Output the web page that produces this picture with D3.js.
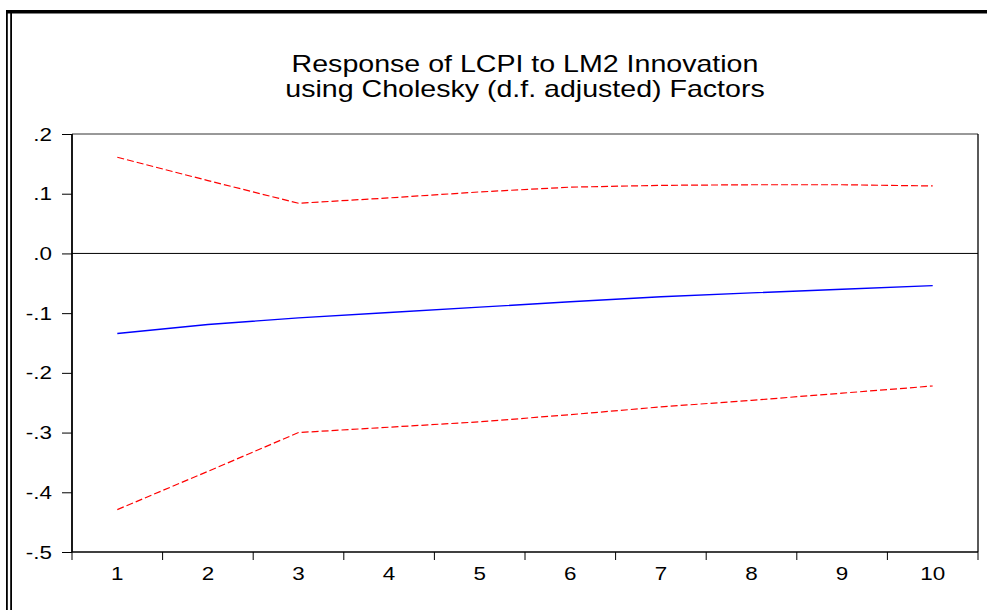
<!DOCTYPE html>
<html>
<head>
<meta charset="utf-8">
<script src="https://cdn.jsdelivr.net/npm/d3@7"></script>
<style>
  body { margin: 0; background: #fff; }
  text { font-family: "Liberation Sans", Arial, sans-serif; fill: #000; }
  .axis path { display: none; }
  .axis line { stroke: #000; }
</style>
</head>
<body>
<div id="chart"></div>
<script>
// periods after the shock
var periods = [1, 2, 3, 4, 5, 6, 7, 8, 9, 10];
// impulse response of LCPI to LM2
var response = [-0.134, -0.119, -0.108, -0.099, -0.090, -0.081, -0.0725, -0.066, -0.060, -0.054];
// +/- 2 S.E. bands
var upperBand = [0.161, 0.122, 0.084, 0.093, 0.103, 0.111, 0.114, 0.115, 0.115, 0.113];
var lowerBand = [-0.429, -0.365, -0.300, -0.291, -0.282, -0.270, -0.257, -0.246, -0.234, -0.222];
var yTicks = [0.2, 0.1, 0.0, -0.1, -0.2, -0.3, -0.4, -0.5];
var titleLines = ["Response of LCPI to LM2 Innovation", "using Cholesky (d.f. adjusted) Factors"];

var width = 987, height = 610;
var plot = { left: 72, right: 978, top: 134, bottom: 552 };
var stretch = 1.18; // eviews fonts are drawn wide

var svg = d3.select("#chart")
  .append("svg")
  .attr("width", width)
  .attr("height", height);

// outer frame (top bar + double line on the left)
svg.append("rect").attr("x", 6).attr("y", 10).attr("width", width - 6).attr("height", 3.5).attr("fill", "#000");
svg.append("rect").attr("x", 6).attr("y", 10).attr("width", 1.8).attr("height", height - 10).attr("fill", "#000");
svg.append("rect").attr("x", 10.2).attr("y", 10).attr("width", 1.8).attr("height", height - 10).attr("fill", "#000");

var x = d3.scaleBand().domain(periods).range([plot.left, plot.right]).padding(0);
var y = d3.scaleLinear().domain([-0.5, 0.2]).range([plot.bottom, plot.top]);

function widen(sel, k) {
  sel.each(function() {
    var w = this.getComputedTextLength();
    d3.select(this).attr("textLength", w * k).attr("lengthAdjust", "spacingAndGlyphs");
  });
}

// title
svg.append("g")
  .selectAll("text")
  .data(titleLines)
  .enter().append("text")
  .attr("x", (plot.left + plot.right) / 2)
  .attr("y", function(d, i) { return 72 + i * 25; })
  .attr("text-anchor", "middle")
  .style("font-size", "24px")
  .text(function(d) { return d; })
  .call(widen, 1.19);

// y axis
var fmt = function(d) {
  return d3.format(".1f")(Math.abs(d)).replace("0.", d < 0 ? "-." : ".");
};
svg.append("g")
  .attr("class", "axis y-axis")
  .attr("transform", "translate(" + plot.left + ",0)")
  .call(d3.axisLeft(y).tickValues(yTicks).tickFormat(fmt).tickSize(10).tickPadding(10))
  .selectAll("text")
  .style("font-size", "19px")
  .style("font-family", "Liberation Sans, Arial, sans-serif")
  .call(widen, stretch);

// x axis labels (centered in each period)
svg.append("g")
  .attr("class", "axis x-axis")
  .attr("transform", "translate(0," + plot.bottom + ")")
  .call(d3.axisBottom(x).tickSize(0).tickPadding(15))
  .selectAll("text")
  .style("font-size", "19px")
  .style("font-family", "Liberation Sans, Arial, sans-serif")
  .call(widen, stretch);

// x ticks at period boundaries
var bounds = periods.map(function(d) { return x(d); }).concat([x(periods[periods.length - 1]) + x.bandwidth()]);
svg.append("g")
  .selectAll("line")
  .data(bounds)
  .enter().append("line")
  .attr("x1", function(d) { return d; })
  .attr("x2", function(d) { return d; })
  .attr("y1", plot.bottom)
  .attr("y2", plot.bottom + 8)
  .attr("stroke", "#000")
  .attr("stroke-width", 1);

// plot frame
svg.append("line").attr("x1", plot.left).attr("x2", plot.right).attr("y1", plot.top).attr("y2", plot.top)
  .attr("stroke", "#333").attr("stroke-width", 1);
svg.append("line").attr("x1", plot.right).attr("x2", plot.right).attr("y1", plot.top).attr("y2", plot.bottom)
  .attr("stroke", "#000").attr("stroke-width", 1.3);
svg.append("line").attr("x1", plot.left).attr("x2", plot.right).attr("y1", plot.bottom).attr("y2", plot.bottom)
  .attr("stroke", "#000").attr("stroke-width", 1.6);
svg.append("line").attr("x1", plot.left).attr("x2", plot.left).attr("y1", plot.top).attr("y2", plot.bottom)
  .attr("stroke", "#000").attr("stroke-width", 1.8);

// zero line
svg.append("line")
  .attr("x1", plot.left).attr("x2", plot.right)
  .attr("y1", y(0)).attr("y2", y(0))
  .attr("stroke", "#000").attr("stroke-width", 1);

var line = d3.line()
  .x(function(d, i) { return x(periods[i]) + x.bandwidth() / 2; })
  .y(function(d) { return y(d); });

svg.append("path")
  .datum(upperBand)
  .attr("d", line)
  .attr("fill", "none")
  .attr("stroke", "#ff0000")
  .attr("stroke-width", 1.2)
  .attr("stroke-dasharray", "7,3");

svg.append("path")
  .datum(lowerBand)
  .attr("d", line)
  .attr("fill", "none")
  .attr("stroke", "#ff0000")
  .attr("stroke-width", 1.2)
  .attr("stroke-dasharray", "7,3");

svg.append("path")
  .datum(response)
  .attr("d", line)
  .attr("fill", "none")
  .attr("stroke", "#0000ff")
  .attr("stroke-width", 1.4);
</script>
</body>
</html>
